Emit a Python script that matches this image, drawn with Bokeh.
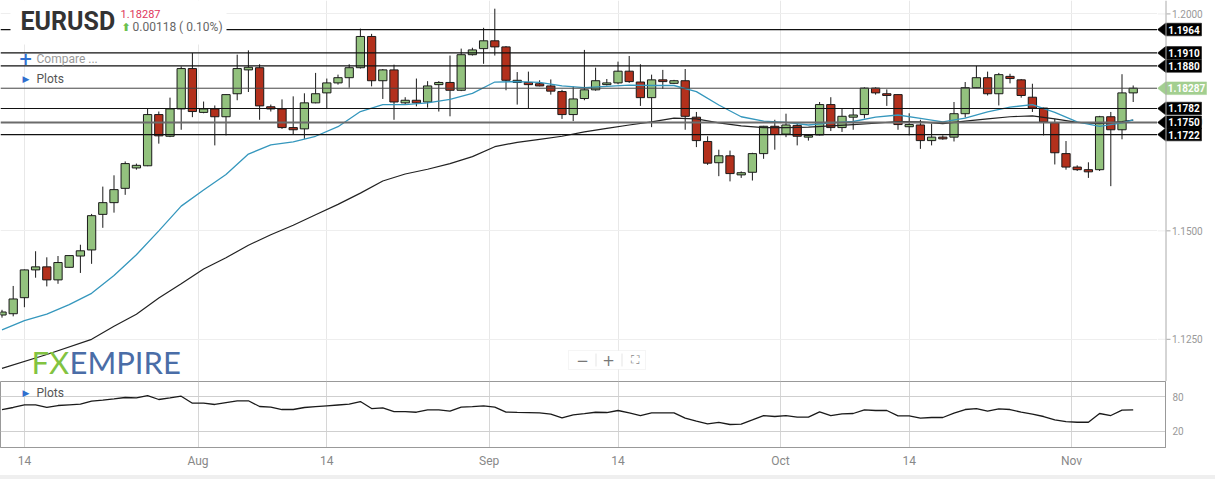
import numpy as np
from bokeh.plotting import figure
from bokeh.layouts import column, row
from bokeh.models import (ColumnDataSource, Range1d, FixedTicker, Span, Label, Grid,
                          BoxAnnotation, CustomJSTickFormatter, Spacer)
from bokeh.core.properties import value
from bokeh.embed import file_html
from bokeh.resources import INLINE

# ---------------- data ----------------
symbol = "EURUSD"
last_price = 1.18287
change = 0.00118
change_pct = 0.10

opens = [1.1306, 1.1309, 1.1346, 1.1410, 1.1417, 1.1387, 1.1416, 1.1442, 1.1456, 1.1538,
         1.1565, 1.1598, 1.1645, 1.1650, 1.1768, 1.1718, 1.1781, 1.1874, 1.1773, 1.1781,
         1.1763, 1.1816, 1.1871, 1.1876, 1.1786, 1.1781, 1.1738, 1.1735, 1.1795, 1.1818,
         1.1841, 1.1853, 1.1876, 1.1948, 1.1846, 1.1871, 1.1795, 1.1801, 1.1797, 1.1837,
         1.1842, 1.1824, 1.1906, 1.1920, 1.1938, 1.1924, 1.1842, 1.1842, 1.1839, 1.1834,
         1.1821, 1.1768, 1.1805, 1.1825, 1.1837, 1.1841, 1.1868, 1.1843, 1.1807, 1.1848,
         1.1840, 1.1846, 1.1762, 1.1706, 1.1657, 1.1673, 1.1629, 1.1635, 1.1678, 1.1741,
         1.1723, 1.1743, 1.1716, 1.1721, 1.1791, 1.1738, 1.1762, 1.1768, 1.1829, 1.1816,
         1.1814, 1.1740, 1.1744, 1.1708, 1.1716, 1.1716, 1.1770, 1.1830, 1.1853, 1.1816,
         1.1856, 1.1848, 1.1808, 1.1783, 1.1749, 1.1678, 1.1647, 1.1641, 1.1641, 1.1763,
         1.1733, 1.1818]
highs = [1.1318, 1.1373, 1.1411, 1.1453, 1.1439, 1.1442, 1.1444, 1.1468, 1.1539, 1.1602,
         1.1628, 1.1660, 1.1655, 1.1781, 1.1775, 1.1807, 1.1879, 1.1910, 1.1798, 1.1789,
         1.1815, 1.1906, 1.1916, 1.1884, 1.1791, 1.1803, 1.1810, 1.1817, 1.1864, 1.1851,
         1.1860, 1.1884, 1.1966, 1.1954, 1.1873, 1.1883, 1.1808, 1.1851, 1.1845, 1.1845,
         1.1904, 1.1920, 1.1922, 1.1968, 1.2012, 1.1926, 1.1866, 1.1867, 1.1847, 1.1849,
         1.1825, 1.1833, 1.1917, 1.1876, 1.1850, 1.1890, 1.1903, 1.1884, 1.1860, 1.1871,
         1.1848, 1.1873, 1.1774, 1.1718, 1.1687, 1.1685, 1.1637, 1.1680, 1.1742, 1.1756,
         1.1770, 1.1750, 1.1722, 1.1797, 1.1808, 1.1781, 1.1781, 1.1831, 1.1831, 1.1826,
         1.1815, 1.1771, 1.1756, 1.1747, 1.1720, 1.1797, 1.1843, 1.1880, 1.1867, 1.1864,
         1.1862, 1.1850, 1.1839, 1.1784, 1.1758, 1.1707, 1.1651, 1.1658, 1.1765, 1.1774,
         1.1861, 1.1835]
lows = [1.1300, 1.1303, 1.1324, 1.1392, 1.1372, 1.1378, 1.1415, 1.1403, 1.1424, 1.1507,
        1.1542, 1.1583, 1.1641, 1.1649, 1.1701, 1.1716, 1.1733, 1.1762, 1.1771, 1.1697,
        1.1720, 1.1801, 1.1820, 1.1756, 1.1775, 1.1735, 1.1722, 1.1712, 1.1794, 1.1783,
        1.1837, 1.1830, 1.1874, 1.1833, 1.1804, 1.1756, 1.1792, 1.1787, 1.1784, 1.1775,
        1.1764, 1.1822, 1.1904, 1.1885, 1.1904, 1.1824, 1.1791, 1.1781, 1.1833, 1.1814,
        1.1758, 1.1753, 1.1801, 1.1823, 1.1835, 1.1838, 1.1841, 1.1788, 1.1739, 1.1827,
        1.1839, 1.1733, 1.1693, 1.1652, 1.1626, 1.1614, 1.1622, 1.1616, 1.1666, 1.1687,
        1.1716, 1.1697, 1.1708, 1.1720, 1.1730, 1.1728, 1.1733, 1.1759, 1.1814, 1.1788,
        1.1733, 1.1720, 1.1689, 1.1697, 1.1710, 1.1706, 1.1761, 1.1829, 1.1812, 1.1789,
        1.1840, 1.1807, 1.1774, 1.1720, 1.1653, 1.1641, 1.1638, 1.1622, 1.1638, 1.1603,
        1.1711, 1.1797]
closes = [1.1313, 1.1343, 1.1410, 1.1417, 1.1387, 1.1427, 1.1443, 1.1454, 1.1535, 1.1565,
          1.1595, 1.1655, 1.1651, 1.1768, 1.1719, 1.1781, 1.1874, 1.1775, 1.1781, 1.1763,
          1.1814, 1.1874, 1.1877, 1.1788, 1.1781, 1.1738, 1.1733, 1.1795, 1.1816, 1.1841,
          1.1853, 1.1876, 1.1948, 1.1846, 1.1871, 1.1797, 1.1801, 1.1795, 1.1834, 1.1842,
          1.1824, 1.1906, 1.1917, 1.1938, 1.1924, 1.1847, 1.1847, 1.1837, 1.1834, 1.1822,
          1.1768, 1.1804, 1.1825, 1.1846, 1.1841, 1.1868, 1.1844, 1.1807, 1.1848, 1.1844,
          1.1846, 1.1764, 1.1708, 1.1656, 1.1673, 1.1632, 1.1634, 1.1678, 1.1741, 1.1722,
          1.1744, 1.1718, 1.1720, 1.1791, 1.1738, 1.1764, 1.1767, 1.1829, 1.1818, 1.1812,
          1.1745, 1.1745, 1.1708, 1.1716, 1.1712, 1.1770, 1.1830, 1.1853, 1.1816, 1.1860,
          1.1851, 1.1812, 1.1783, 1.1751, 1.1680, 1.1647, 1.1641, 1.1636, 1.1763, 1.1733,
          1.1818, 1.18287]

ma_fast_x = [0, 2, 4, 6, 8, 10, 12, 14, 16, 18, 20, 22, 24, 26, 28, 30, 32, 34, 36, 38,
             40, 42, 44, 46, 48, 50, 52, 54, 56, 58, 60, 62, 64, 66, 68, 70, 72, 74, 76, 78,
             80, 82, 84, 86, 88, 90, 92, 94, 96, 98, 100, 101]
ma_fast = [1.1272, 1.1293, 1.1308, 1.1330, 1.1356, 1.1397, 1.1445, 1.1500, 1.1557, 1.1594,
           1.1630, 1.1677, 1.1698, 1.1705, 1.1718, 1.1740, 1.1775, 1.1791, 1.1791, 1.1795,
           1.1803, 1.1817, 1.1843, 1.1844, 1.1842, 1.1834, 1.1830, 1.1833, 1.1836, 1.1835,
           1.1835, 1.1821, 1.1790, 1.1763, 1.1753, 1.1750, 1.1744, 1.1749, 1.1752, 1.1762,
           1.1767, 1.1759, 1.1751, 1.1760, 1.1774, 1.1785, 1.1791, 1.1773, 1.1751, 1.1741,
           1.1749, 1.1756]
ma_slow_x = [0, 4, 8, 10, 12, 14, 16, 18, 20, 22, 24, 26, 28, 30, 32, 34, 36, 38, 40, 42,
             44, 46, 48, 50, 52, 54, 56, 58, 60, 62, 64, 66, 68, 70, 72, 74, 76, 78, 80, 82,
             84, 86, 88, 90, 92, 94, 96, 98, 100, 101]
ma_slow = [1.1183, 1.1215, 1.1250, 1.1280, 1.1308, 1.1345, 1.1378, 1.1412, 1.1438, 1.1467,
           1.1491, 1.1513, 1.1537, 1.1561, 1.1587, 1.1615, 1.1631, 1.1642, 1.1655, 1.1671,
           1.1694, 1.1704, 1.1711, 1.1718, 1.1728, 1.1736, 1.1744, 1.1751, 1.1760, 1.1758,
           1.1749, 1.1742, 1.1738, 1.1738, 1.1739, 1.1742, 1.1745, 1.1748, 1.1752, 1.1751,
           1.1747, 1.1753, 1.1758, 1.1763, 1.1765, 1.1758, 1.1750, 1.1747, 1.1752, 1.1755]

osc = [57.3, 61.0, 65.6, 65.6, 61.2, 64.4, 65.5, 66.7, 71.9, 73.8,
       76.0, 78.3, 77.8, 81.7, 74.8, 77.5, 80.5, 68.4, 68.4, 66.2,
       69.5, 72.3, 72.6, 62.7, 61.5, 57.5, 57.5, 61.0, 62.5, 63.9,
       65.3, 66.7, 71.3, 59.2, 60.4, 54.0, 54.0, 52.8, 57.0, 57.0,
       54.6, 61.5, 62.5, 63.9, 61.5, 53.0, 52.5, 52.2, 51.8, 49.4,
       43.1, 48.3, 50.5, 52.8, 52.3, 55.8, 51.5, 47.1, 51.8, 51.8,
       51.8, 42.5, 37.5, 32.8, 35.3, 31.6, 32.1, 39.5, 47.1, 45.4,
       47.1, 44.2, 44.2, 53.5, 47.1, 50.1, 50.6, 57.0, 55.8, 55.8,
       46.6, 46.6, 42.5, 43.7, 43.7, 51.1, 57.5, 59.2, 54.6, 58.7,
       57.5, 52.8, 49.5, 45.4, 39.7, 36.7, 35.5, 35.5, 50.6, 47.1,
       56.3, 57.0]

xtick_pos = [2, 17.5, 29, 43.5, 55, 69.5, 81, 95.5]
xtick_labels = ["14", "Aug", "14", "Sep", "14", "Oct", "14", "Nov"]
ytick_main = [1.125, 1.15, 1.175, 1.2]
ytick_osc = [20, 80]
levels = [1.1964, 1.1910, 1.1880, 1.1782, 1.1750, 1.1722]

# ---------------- layout constants ----------------
W = 1215
MAIN_W = 1157          # price frame ends where the price tags start
AXIS_W = W - MAIN_W    # strip with the price axis and tags
OSC_FRAME_R = 1165
MAIN_H = 381
OSC_H = 94
GREEN = "#93c27e"
RED = "#b3301c"
BLUE_MA = "#3597bd"
FONT = "Roboto"
PX = 11.2              # pixels per candle slot
X0 = -0.134            # slot value at the left edge

y_range = Range1d(1.11528, 1.20309)

# ---------------- main price panel ----------------
p = figure(width=MAIN_W, height=MAIN_H, x_range=Range1d(X0, X0 + MAIN_W / PX),
           y_range=y_range, output_backend="svg", toolbar_location=None,
           x_axis_location=None, y_axis_location=None,
           min_border_left=0, min_border_right=0, min_border_top=0, min_border_bottom=0)
p.outline_line_color = None
p.xgrid.visible = False
p.ygrid.visible = False
p.add_layout(Grid(dimension=0, ticker=FixedTicker(ticks=xtick_pos),
                  grid_line_color="#e8e8e8", grid_line_width=1))
p.add_layout(Grid(dimension=1, ticker=FixedTicker(ticks=ytick_main),
                  grid_line_color="#eeeeee", grid_line_width=1))

o = np.array(opens)
c = np.array(closes)
idx = np.arange(len(opens))
src = ColumnDataSource(dict(x=idx, top=np.maximum(o, c), bottom=np.minimum(o, c),
                            high=highs, low=lows,
                            color=np.where(c >= o, GREEN, RED)))
p.segment(x0="x", y0="high", x1="x", y1="low", source=src, line_color="#1a1a1a", line_width=1)
p.vbar(x="x", width=0.74, top="top", bottom="bottom", fill_color="color",
       line_color="#1a1a1a", line_width=1, source=src)

p.line(ma_slow_x, ma_slow, line_color="#222222", line_width=1.2)
p.line(ma_fast_x, ma_fast, line_color=BLUE_MA, line_width=1.3)

for lvl in levels:
    if abs(lvl - 1.1750) < 1e-9:
        p.add_layout(Span(location=lvl, dimension="width", line_color="#6b6b6b", line_width=2))
    else:
        p.add_layout(Span(location=lvl, dimension="width", line_color="#111111", line_width=1.2))
p.add_layout(Span(location=last_price, dimension="width", line_color="#444444", line_width=1))

# header background
p.add_layout(BoxAnnotation(left=10, right=226, top=MAIN_H, bottom=MAIN_H - 44,
                           left_units="screen", right_units="screen",
                           top_units="screen", bottom_units="screen",
                           fill_color="white", fill_alpha=1, line_color=None))


def lab(fig, fh, x, y, text, size, color, font=FONT, style="normal", align="left"):
    fig.add_layout(Label(x=x, y=fh - y, x_units="screen", y_units="screen", text=text,
                         text_font=font, text_font_size=f"{size}px", text_color=color,
                         text_font_style=style, text_align=align, text_baseline="middle"))


# header texts
lab(p, MAIN_H, 20, 20.5, symbol, 25, "#333333", style="bold")
lab(p, MAIN_H, 120, 13, f"{last_price:.5f}", 11, "#e0365c")
lab(p, MAIN_H, 121, 26.5, "⬆", 11, "#6cbf4f", font="DejaVu Sans", style="bold")
lab(p, MAIN_H, 132, 26, f"{change:.5f} ( {change_pct:.2f}%)", 12, "#666666")
lab(p, MAIN_H, 25, 58, "+", 17, "#2f6fcf", font="DejaVu Sans", style="bold", align="center")
lab(p, MAIN_H, 36, 58.5, "Compare ...", 12, "#999999")
lab(p, MAIN_H, 22, 78, "▶", 9, "#2f6fcf", font="DejaVu Sans")
lab(p, MAIN_H, 36, 78, "Plots", 12, "#555555")

# logo
lab(p, MAIN_H, 31, 361.5, "FX", 31, "#82c341", font="Lato")
lab(p, MAIN_H, 69, 361.5, "EMPIRE", 31, "#4a6da7", font="Lato")

# zoom control
p.add_layout(BoxAnnotation(left=568, right=645, top=MAIN_H - 350, bottom=MAIN_H - 369,
                           left_units="screen", right_units="screen",
                           top_units="screen", bottom_units="screen",
                           fill_color="white", fill_alpha=1, line_color="#dddddd",
                           line_width=1))
for sx in (595, 621):
    p.add_layout(BoxAnnotation(left=sx, right=sx + 1, top=MAIN_H - 353, bottom=MAIN_H - 366,
                               left_units="screen", right_units="screen",
                               top_units="screen", bottom_units="screen",
                               fill_color="#e6e6e6", fill_alpha=1, line_color=None))
lab(p, MAIN_H, 582, 359.5, "−", 15, "#777777", font="DejaVu Sans", align="center")
lab(p, MAIN_H, 608, 359.5, "+", 15, "#777777", font="DejaVu Sans", align="center")
lab(p, MAIN_H, 634, 359.5, "⛶", 12, "#888888", font="DejaVu Sans", align="center")

# ---------------- price axis strip with tags ----------------
a = figure(width=AXIS_W, height=MAIN_H, x_range=Range1d(0, AXIS_W), y_range=y_range,
           output_backend="svg", toolbar_location=None,
           x_axis_location=None, y_axis_location=None,
           min_border_left=0, min_border_right=0, min_border_top=0, min_border_bottom=0)
a.outline_line_color = None
a.xgrid.visible = False
a.ygrid.visible = False
AX = OSC_FRAME_R - MAIN_W     # axis line position inside the strip
n_t = len(ytick_main)
a.segment(x0=[0] * n_t, x1=[AX] * n_t, y0=ytick_main, y1=ytick_main,
          line_color="#eeeeee", line_width=1)
a.add_layout(Span(location=AX + 0.5, dimension="height", line_color="#aaaaaa", line_width=1))
a.segment(x0=[AX + 1] * n_t, x1=[AX + 5] * n_t, y0=ytick_main, y1=ytick_main,
          line_color="#aaaaaa", line_width=1)
a.text(x=[AX + 6.5] * n_t, y=ytick_main, text=[f"{t:.4f}" for t in ytick_main],
       text_font=value(FONT), text_font_size=value("10px"), text_color="#999999",
       text_align="left", text_baseline="middle")

HH = 0.00146
tag_prices = levels + [last_price]
tag_texts = [f"{v:.4f}" for v in levels] + [f"{last_price:.5f}"]
tag_fill = ["#000000"] * len(levels) + ["#a3cf90"]
tag_right = [44] * len(levels) + [49]
tag_xs = [[0, AX, r, r, AX] for r in tag_right]
tag_ys = [[v, v + HH, v + HH, v - HH, v - HH] for v in tag_prices]
a.patches(xs=tag_xs, ys=tag_ys, fill_color=tag_fill, line_color=tag_fill, line_width=0.5)
a.text(x=[(AX + 1 + r) / 2 for r in tag_right], y=tag_prices, text=tag_texts,
       text_font=value(FONT), text_font_size=value("10px"), text_font_style="bold",
       text_color="white", text_align="center", text_baseline="middle")

# ---------------- oscillator panel ----------------
q = figure(width=W, height=OSC_H, x_range=Range1d(X0, X0 + OSC_FRAME_R / PX),
           y_range=Range1d(-8.2, 105.95),
           output_backend="svg", toolbar_location=None, y_axis_location="right",
           min_border_left=0, min_border_right=W - OSC_FRAME_R, min_border_top=0,
           min_border_bottom=OSC_H - 66)
q.outline_line_color = "#999999"
q.line(idx, osc, line_color="#1a1a1a", line_width=1.3)

q.xaxis.ticker = FixedTicker(ticks=xtick_pos)
q.xaxis.formatter = CustomJSTickFormatter(args=dict(pos=xtick_pos, labs=xtick_labels), code="""
    const i = pos.findIndex(t => Math.abs(t - tick) < 1e-6);
    return i < 0 ? "" : labs[i];
""")
q.xaxis.axis_line_color = "#999999"
q.xaxis.major_tick_line_color = None
q.xaxis.major_tick_out = 0
q.xaxis.major_tick_in = 0
q.xaxis.minor_tick_line_color = None
q.xaxis.major_label_text_font = FONT
q.xaxis.major_label_text_font_size = "12px"
q.xaxis.major_label_text_color = "#888888"
q.xaxis.major_label_standoff = 6
q.xgrid.grid_line_color = "#d6d6d6"

q.yaxis.ticker = FixedTicker(ticks=ytick_osc)
q.yaxis.axis_line_color = "#999999"
q.yaxis.major_tick_line_color = None
q.yaxis.major_tick_out = 0
q.yaxis.minor_tick_line_color = None
q.yaxis.major_label_text_font = FONT
q.yaxis.major_label_text_font_size = "10px"
q.yaxis.major_label_text_color = "#999999"
q.yaxis.major_label_standoff = 7
q.ygrid.grid_line_color = "#cfcfcf"

lab(q, 66, 22, 11.3, "▶", 9, "#2f6fcf", font="DejaVu Sans")
lab(q, 66, 36, 11.3, "Plots", 12, "#555555")

bottom_strip = Spacer(width=W, height=479 - MAIN_H - OSC_H,
                      styles={"background-color": "#efefef"})

layout = column(row(p, a, spacing=0), q, bottom_strip, spacing=0)
open("out.html", "w").write(file_html(layout, INLINE))
